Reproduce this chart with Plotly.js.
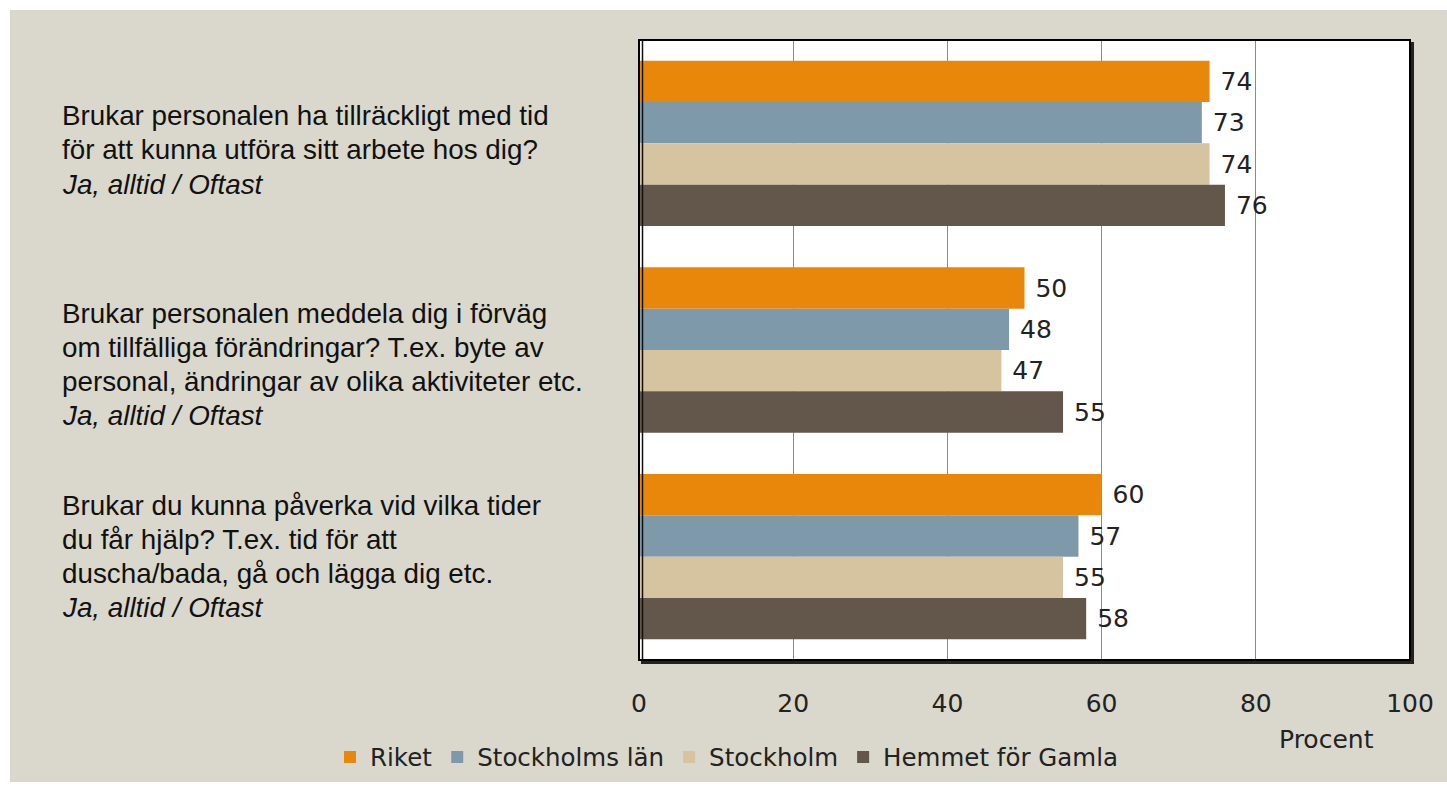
<!DOCTYPE html>
<html><head><meta charset="utf-8">
<script src="https://cdn.plot.ly/plotly-3.0.1.min.js"></script>
<style>html,body{margin:0;padding:0;background:#fff;overflow:hidden;} #chart{position:absolute;left:10px;top:10px;width:1437px;height:772px;}</style>
</head><body><div id="chart"></div>
<script>
// ---- data ----
const questions = [
  'Brukar personalen ha tillräckligt med tid<br>för att kunna utföra sitt arbete hos dig?',
  'Brukar personalen meddela dig i förväg<br>om tillfälliga förändringar? T.ex. byte av<br>personal, ändringar av olika aktiviteter etc.',
  'Brukar du kunna påverka vid vilka tider<br>du får hjälp? T.ex. tid för att<br>duscha/bada, gå och lägga dig etc.'
];
const answers = ['Ja, alltid / Oftast', 'Ja, alltid / Oftast', 'Ja, alltid / Oftast'];
const seriesNames = ['Riket', 'Stockholms län', 'Stockholm', 'Hemmet för Gamla'];
const riket = [74, 50, 60];
const stockholmsLan = [73, 48, 57];
const stockholm = [74, 47, 55];
const hemmet = [76, 55, 58];
const tickValues = [0, 20, 40, 60, 80, 100];
const axisUnit = 'Procent';

// ---- styling ----
const colors = ['#E8870A', '#7E9AAA', '#D5C49F', '#63564B'];
const W = 1437, H = 772, ML = 629, MR = 37, MT = 30, MB = 122;
const PW = W - ML - MR, PH = H - MT - MB;
const OX = 10, OY = 10; // div offset on page
const px = x => (x - OX - ML) / PW;
const py = y => (MT + PH - (y - OY)) / PH;
const valFont = {family: 'DejaVu Sans, Verdana, sans-serif', size: 25, color: '#222'};
const legFont = {family: 'DejaVu Sans, Verdana, sans-serif', size: 24.5, color: '#222'};
const qFont = {family: 'Liberation Sans, Arial, sans-serif', size: 27.8, color: '#111'};

const seriesValues = [riket, stockholmsLan, stockholm, hemmet];
const traces = seriesValues.map((vals, i) => ({
  type: 'bar', orientation: 'h', name: seriesNames[i],
  y: questions, x: vals,
  marker: {color: colors[i], line: {width: 0}},
  texttemplate: '\u00a0%{x}', textposition: 'outside',
  textfont: valFont, cliponaxis: false, constraintext: 'none',
  hoverinfo: 'skip'
}));

// question text, one annotation per line
const qFirstLine = [116, 313, 505];
const lineStep = 34;
const annotations = [];
questions.forEach((q, i) => {
  const lines = q.split('<br>').concat(['<i>' + answers[i] + '</i>']);
  lines.forEach((ln, j) => {
    annotations.push({
      xref: 'paper', yref: 'paper', x: px(60), y: py(qFirstLine[i] + j * lineStep),
      xanchor: 'left', yanchor: 'middle', align: 'left', showarrow: false,
      text: ln, font: qFont
    });
  });
});
annotations.push({
  xref: 'paper', yref: 'paper', x: px(1326), y: py(740), xanchor: 'center', yanchor: 'middle',
  showarrow: false, text: axisUnit, font: valFont
});

const shapes = [
  {type: 'rect', xref: 'paper', yref: 'paper', x0: 0, x1: 1, y0: 0, y1: 1, line: {color: '#000', width: 2}},
  {type: 'line', xref: 'paper', yref: 'paper', x0: 3.5 / PW, x1: 3.5 / PW, y0: 0, y1: 1, line: {color: '#111', width: 1.5}},
  {type: 'line', xref: 'paper', yref: 'paper', x0: 1 + 2.5 / PW, x1: 1 + 2.5 / PW, y0: -4 / PH, y1: 1 - 2 / PH, line: {color: '#222', width: 3}},
  {type: 'line', xref: 'paper', yref: 'paper', x0: 2 / PW, x1: 1 + 4 / PW, y0: -2.5 / PH, y1: -2.5 / PH, line: {color: '#222', width: 3}}
];

const layout = {
  width: W, height: H,
  margin: {l: ML, r: MR, t: MT, b: MB, pad: 0, autoexpand: false},
  paper_bgcolor: '#DAD8CC', plot_bgcolor: '#FFFFFF',
  barmode: 'group', bargap: 0.2, bargroupgap: 0,
  showlegend: true,
  legend: {orientation: 'h', x: px(330), y: py(757), xanchor: 'left', yanchor: 'middle',
    bgcolor: 'rgba(0,0,0,0)', font: legFont, traceorder: 'normal'},
  xaxis: {range: [0, 100], tickvals: tickValues, ticktext: tickValues.map(String),
    showgrid: true, gridcolor: '#8a8a8a', gridwidth: 1, zeroline: false, showline: false,
    ticks: 'outside', ticklen: 21, tickcolor: 'rgba(0,0,0,0)', tickfont: valFont, fixedrange: true},
  yaxis: {type: 'category', autorange: 'reversed', showticklabels: false, showgrid: false,
    zeroline: false, showline: false, ticks: '', fixedrange: true},
  annotations: annotations, shapes: shapes,
  font: {family: 'DejaVu Sans, sans-serif'}
};

Plotly.newPlot('chart', traces, layout, {displayModeBar: false, staticPlot: true});
</script>
</body></html>
